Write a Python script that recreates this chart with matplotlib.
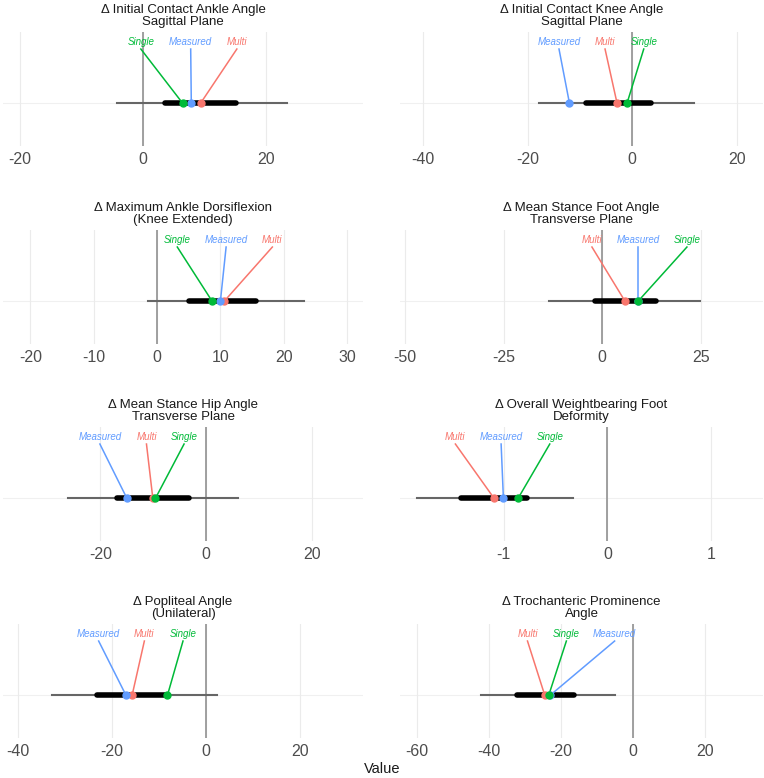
import matplotlib
matplotlib.use("Agg")
import matplotlib.pyplot as plt

plt.rcParams['font.family'] = ['Liberation Sans', 'DejaVu Sans']

# one entry per panel
titles = [
    "Δ Initial Contact Ankle Angle\nSagittal Plane",
    "Δ Initial Contact Knee Angle\nSagittal Plane",
    "Δ Maximum Ankle Dorsiflexion\n(Knee Extended)",
    "Δ Mean Stance Foot Angle\nTransverse Plane",
    "Δ Mean Stance Hip Angle\nTransverse Plane",
    "Δ Overall Weightbearing Foot\nDeformity",
    "Δ Popliteal Angle\n(Unilateral)",
    "Δ Trochanteric Prominence\nAngle",
]
outer_lo = [-4.3, -17.8, -1.5, -13.6, -26.1, -1.835, -32.8, -42.2]
outer_hi = [23.3, 11.8, 23.2, 24.9, 5.9, -0.334, 2.3, -5.0]
inner_lo = [3.6, -8.8, 5.1, -1.8, -16.8, -1.414, -23.1, -32.2]
inner_hi = [15.0, 3.5, 15.6, 13.7, -3.3, -0.771, -8.5, -16.3]
measured = [7.8, -12.0, 10.0, 9.1, -15.0, -1.003, -17.0, -22.9]
multi = [9.3, -2.9, 10.6, 5.8, -10.1, -1.093, -15.7, -24.4]
single = [6.4, -1.0, 8.7, 9.1, -9.6, -0.861, -8.2, -23.3]

tick_sets = [
    [-20, 0, 20],
    [-40, -20, 0, 20],
    [-20, -10, 0, 10, 20, 30],
    [-50, -25, 0, 25],
    [-20, 0, 20],
    [-1, 0, 1],
    [-40, -20, 0, 20],
    [-60, -40, -20, 0, 20],
]

# layout: axis limits and where the repelled labels ended up
xlims = [(-22.8, 35.7), (-44.4, 25.0), (-24.3, 32.5), (-51.3, 40.8),
         (-38.4, 29.6), (-2.0, 1.5), (-43.1, 33.3), (-64.6, 36.2)]
lab_measured = [7.7, -14.0, 10.9, 9.1, -20.1, -1.025, -22.8, -5.0]
lab_multi = [15.2, -5.2, 18.2, -2.6, -11.3, -1.466, -13.1, -29.2]
lab_single = [-0.4, 2.2, 3.2, 21.5, -4.2, -0.556, -4.9, -18.4]

colors = {'Multi': '#F8766D', 'Single': '#00BA38', 'Measured': '#619CFF'}

W, H = 764, 778
fig = plt.figure(figsize=(W / 100, H / 100), dpi=100)

col_x = [(3, 363), (400, 763)]
row_top = [32, 230, 427, 624]
ph = 113.5

Y_PT, Y_LAB, Y_SEG = 0.372, 0.91, 0.85

for i in range(8):
    r, c = divmod(i, 2)
    x0, x1 = col_x[c]
    ax = fig.add_axes([x0 / W, 1 - (row_top[r] + ph) / H, (x1 - x0) / W, ph / H])
    ax.set_xlim(*xlims[i])
    ax.set_ylim(0, 1)
    ax.set_xticks(tick_sets[i])
    ax.set_xticklabels([str(t) for t in tick_sets[i]])
    ax.set_yticks([])
    for s in ax.spines.values():
        s.set_visible(False)
    ax.tick_params(axis='x', length=0, pad=4.5, labelsize=11.5, labelcolor='#4D4D4D')
    ax.grid(axis='x', color='#EBEBEB', lw=0.8)
    ax.set_axisbelow(True)
    ax.axhline(Y_PT, color='#F0F0F0', lw=0.8, zorder=0)
    ax.axvline(0, color='#999999', lw=1.3, zorder=1)

    ax.plot([outer_lo[i], outer_hi[i]], [Y_PT, Y_PT], color='#666666', lw=1.5, zorder=2)
    ax.plot([inner_lo[i], inner_hi[i]], [Y_PT, Y_PT], color='black', lw=4,
            solid_capstyle='round', zorder=3)

    series = [('Multi', multi[i], lab_multi[i]),
              ('Measured', measured[i], lab_measured[i]),
              ('Single', single[i], lab_single[i])]
    for name, val, lx in series:
        col = colors[name]
        ax.plot([lx, val], [Y_SEG, Y_PT], color=col, lw=1.1, zorder=4)
        ax.text(lx, Y_LAB, name, color=col, fontsize=7, style='italic',
                ha='center', va='center', zorder=6)
    for name, val, lx in series:
        ax.plot(val, Y_PT, 'o', color=colors[name], ms=5, zorder=5)

    ax.set_title(titles[i], fontsize=9.5, color='#1A1A1A', pad=5, linespacing=1.0)

fig.text(0.5, 1 - 769 / H, 'Value', ha='center', va='center', fontsize=10.5, color='#1A1A1A')

fig.savefig('out.png', dpi=100)
